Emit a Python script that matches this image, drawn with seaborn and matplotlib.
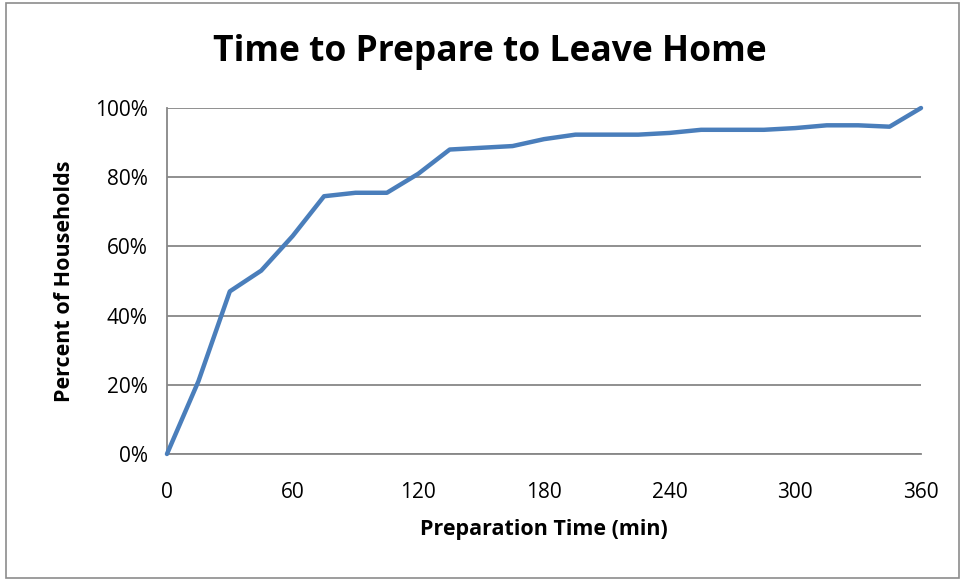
import matplotlib
matplotlib.use("Agg")
import matplotlib.pyplot as plt
import matplotlib.patches as mpatches
from matplotlib.ticker import PercentFormatter
import pandas as pd
import seaborn as sns

# values (15-min steps)
prep_minutes = [0, 15, 30, 45, 60, 75, 90, 105, 120, 135, 150, 165, 180,
                195, 210, 225, 240, 255, 270, 285, 300, 315, 330, 345, 360]
pct_households = [0.0, 21.0, 47.0, 53.0, 63.0, 74.5, 75.5, 75.5, 81.0, 88.0,
                  88.5, 89.0, 91.0, 92.3, 92.3, 92.3, 92.8, 93.7, 93.7, 93.7,
                  94.2, 95.0, 95.0, 94.6, 100.0]
x_ticks = [0, 60, 120, 180, 240, 300, 360]
y_ticks = [0, 20, 40, 60, 80, 100]

df = pd.DataFrame({"minutes": prep_minutes, "pct": pct_households})

sns.set_style("white", {"text.color": "black", "xtick.color": "black",
                        "ytick.color": "black", "axes.labelcolor": "black"})
plt.rcParams["font.family"] = ["Open Sans", "DejaVu Sans"]

GRID = "#878787"
fig = plt.figure(figsize=(9.64, 5.81), dpi=100)
ax = fig.add_axes([0.1732, 0.2186, 0.7822, 0.5955])

sns.lineplot(data=df, x="minutes", y="pct", ax=ax, color="#4A7EBB",
             linewidth=3.2, solid_joinstyle="round", solid_capstyle="round",
             clip_on=False, zorder=3)

ax.set_xlim(0, 360)
ax.set_ylim(0, 100)
ax.set_xticks(x_ticks)
ax.set_yticks(y_ticks)
ax.yaxis.set_major_formatter(PercentFormatter(decimals=0))
ax.yaxis.grid(True, color=GRID, linewidth=1.3)
ax.xaxis.grid(False)
ax.set_axisbelow(True)

for s in ["top", "right"]:
    ax.spines[s].set_visible(False)
for s in ["left", "bottom"]:
    ax.spines[s].set_color(GRID)
    ax.spines[s].set_linewidth(1.3)

ax.tick_params(axis="x", direction="in", length=7, width=1.3, color=GRID,
               labelcolor="black", labelsize=15, pad=20)
ax.tick_params(axis="y", length=0, labelcolor="black", labelsize=15, pad=14)

ax.set_xlabel("Preparation Time (min)", fontsize=15.5, fontweight="bold",
              labelpad=12, color="black")
ax.set_ylabel("Percent of Households", fontsize=15.5, fontweight="bold",
              labelpad=14, color="black")
fig.text(0.508, 0.91, "Time to Prepare to Leave Home", ha="center",
         va="center", fontsize=25.5, fontweight="bold", color="black")

# outer chart border
fig.patches.append(mpatches.Rectangle((0.006, 0.006), 0.989, 0.988,
                                      transform=fig.transFigure, fill=False,
                                      edgecolor="#8c8c8c", linewidth=1.2))

fig.savefig("out.png", dpi=100)
